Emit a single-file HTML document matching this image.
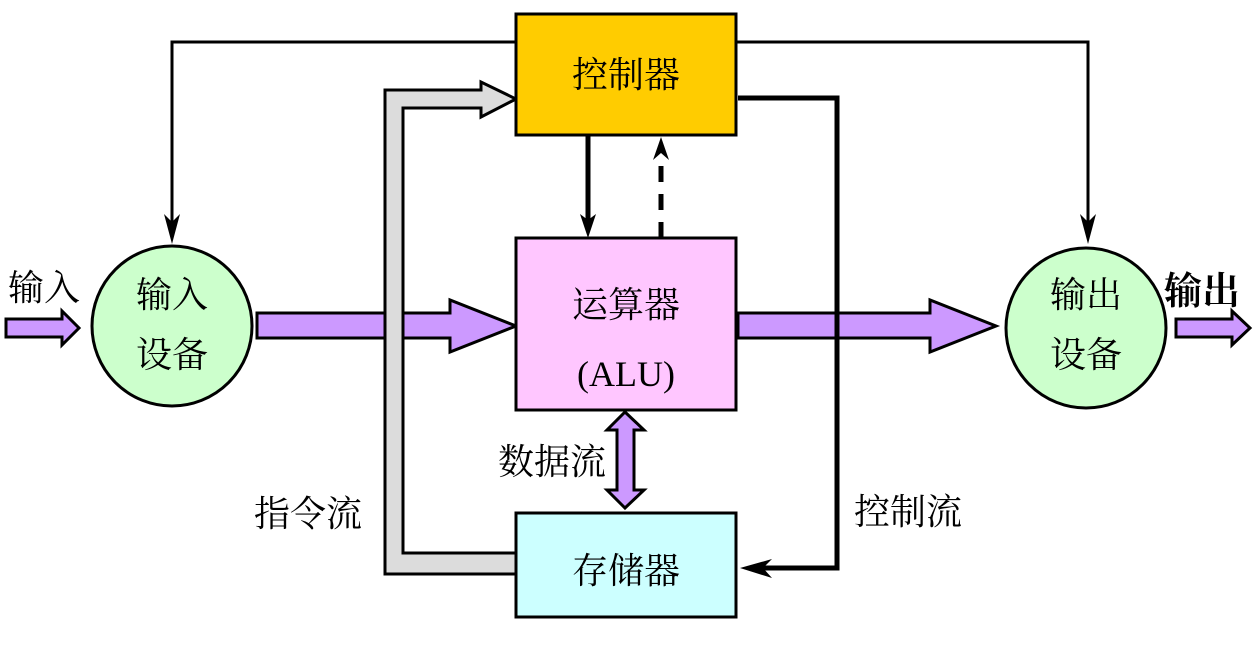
<!DOCTYPE html>
<html><head><meta charset="utf-8"><style>
body{margin:0;background:#fff}
text{font-family:"Liberation Serif","Noto Serif CJK SC","Noto Sans CJK SC",serif;fill:#000}
</style></head><body>
<svg width="1260" height="645" viewBox="0 0 1260 645" xmlns="http://www.w3.org/2000/svg">
<path d="M516,574 L385,574 L385,90 L481,90 L481,82 L516,99 L481,117 L481,108 L403,108 L403,553 L516,553 Z" fill="#dcdcdc" stroke="#000" stroke-width="3"/>
<path d="M516,42 L172,42 L172,230" fill="none" stroke="#000" stroke-width="3"/>
<path d="M164,214 L172,244 L180,214 L172,222 Z" fill="#000"/>
<path d="M736,42 L1088,42 L1088,230" fill="none" stroke="#000" stroke-width="3"/>
<path d="M1080,214 L1088,244 L1096,214 L1088,222 Z" fill="#000"/>
<path d="M738,98 L837,98 L837,568 L752,568" fill="none" stroke="#000" stroke-width="5"/>
<path d="M740,568 L772,559 L763,568 L772,578 Z" fill="#000"/>
<path d="M257,313 L450,313 L450,300 L516,326 L450,352 L450,338 L257,338 Z" fill="#cc99ff" stroke="#000" stroke-width="3"/>
<path d="M738,313 L930,313 L930,300 L996,326 L930,352 L930,338 L738,338 Z" fill="#cc99ff" stroke="#000" stroke-width="3"/>
<path d="M6,319 L62,319 L62,311 L79,328 L62,345 L62,337 L6,337 Z" fill="#cc99ff" stroke="#000" stroke-width="3"/>
<path d="M1176,319 L1232,319 L1232,311 L1250,328 L1232,345 L1232,337 L1176,337 Z" fill="#cc99ff" stroke="#000" stroke-width="3"/>
<rect x="386.5" y="300" width="15" height="60" fill="#dcdcdc"/>
<line x1="385" y1="300" x2="385" y2="360" stroke="#000" stroke-width="3"/>
<line x1="403" y1="300" x2="403" y2="360" stroke="#000" stroke-width="3"/>
<line x1="837" y1="300" x2="837" y2="360" stroke="#000" stroke-width="5"/>
<rect x="516" y="14" width="220" height="121" fill="#ffcc00" stroke="#000" stroke-width="3"/>
<rect x="516" y="238" width="220" height="172" fill="#ffc6ff" stroke="#000" stroke-width="3"/>
<rect x="516" y="513" width="220" height="104" fill="#ccffff" stroke="#000" stroke-width="3"/>
<line x1="588" y1="135" x2="588" y2="220" stroke="#000" stroke-width="5"/>
<path d="M580,214 L588,238 L596,214 L588,220 Z" fill="#000"/>
<line x1="661" y1="238" x2="661" y2="158" stroke="#000" stroke-width="5" stroke-dasharray="16,12"/>
<path d="M653,160 L661,137 L669,160 L661,153 Z" fill="#000"/>
<path d="M625,412 L644,430 L634,430 L634,490 L644,490 L625,508 L607,490 L617,490 L617,430 L607,430 Z" fill="#cc99ff" stroke="#000" stroke-width="3"/>
<circle cx="172" cy="326" r="80" fill="#ccffcc" stroke="#000" stroke-width="3"/>
<circle cx="1086" cy="328" r="80" fill="#ccffcc" stroke="#000" stroke-width="3"/>
<text x="626" y="87" font-size="36" text-anchor="middle">控制器</text>
<text x="626" y="317" font-size="36" text-anchor="middle">运算器</text>
<text x="626" y="386" font-size="36" text-anchor="middle">(ALU)</text>
<text x="626" y="583" font-size="36" text-anchor="middle">存储器</text>
<text x="172" y="307" font-size="36" text-anchor="middle">输入</text>
<text x="172" y="367" font-size="36" text-anchor="middle">设备</text>
<text x="1086" y="307" font-size="36" text-anchor="middle">输出</text>
<text x="1086" y="367" font-size="36" text-anchor="middle">设备</text>
<text x="8" y="300" font-size="36">输入</text>
<text x="1164" y="304" font-size="38" font-weight="bold">输出</text>
<text x="498" y="474" font-size="36">数据流</text>
<text x="254" y="526" font-size="36">指令流</text>
<text x="854" y="524" font-size="36">控制流</text>
</svg>
</body></html>
